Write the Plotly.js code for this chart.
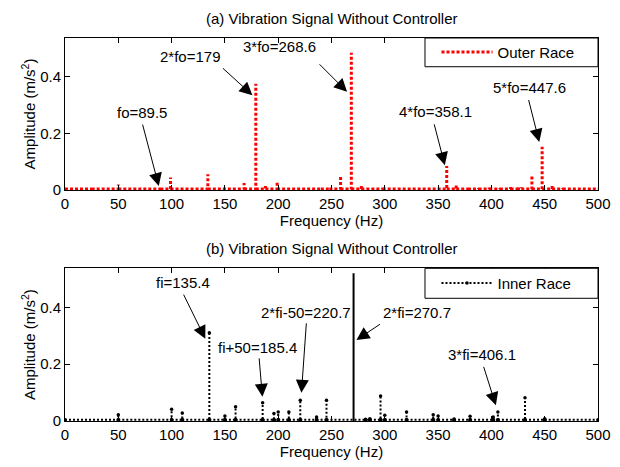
<!DOCTYPE html>
<html><head><meta charset="utf-8">
<script src="https://cdn.plot.ly/plotly-3.0.1.min.js"></script>
<style>html,body{margin:0;padding:0;background:#fff}</style>
</head><body><div id="chart" style="width:620px;height:467px"></div>
<script>
// ---------- data ----------
const freqRange = [0, 500];
const ampRange = [0, 0.537];
const xTickVals = [0, 50, 100, 150, 200, 250, 300, 350, 400, 450, 500];
const yTickVals = [0, 0.2, 0.4];
const yTickText = ['0', '0.2', '0.4'];

const outerBase = 0.004;
const outerFreq = [25, 50, 89.5, 99, 134, 168, 179, 188, 199, 240, 248, 258.5, 268.6, 278, 298,
                   358.1, 367, 378, 388, 398, 408, 418, 424, 428, 438, 447.6, 457, 467];
const outerAmp  = [0.006, 0.02, 0.012, 0.044, 0.056, 0.025, 0.375, 0.014, 0.031, 0.008, 0.008, 0.05, 0.485, 0.021, 0.008,
                   0.085, 0.016, 0.007, 0.007, 0.009, 0.007, 0.011, 0.009, 0.01, 0.053, 0.153, 0.014, 0.007];

const innerBase = 0.004;
const innerFreq = [50, 100, 110, 135.4, 150, 160, 185.4, 196, 200, 210, 220.7, 236, 245.3, 282, 286,
                   296, 300, 320.4, 345.4, 350, 365, 380, 401.7, 406.1, 431.5, 450];
const innerAmp  = [0.022, 0.041, 0.028, 0.31, 0.018, 0.05, 0.064, 0.026, 0.032, 0.032, 0.073, 0.014, 0.073, 0.006, 0.008,
                   0.088, 0.02, 0.032, 0.022, 0.018, 0.007, 0.017, 0.014, 0.032, 0.082, 0.008];
const innerSolidFreq = [270.7];
const innerSolidAmp  = [0.52];

const outerName = 'Outer Race';
const innerName = 'Inner Race';
const titleA = '(a) Vibration Signal Without Controller';
const titleB = '(b) Vibration Signal Without Controller';
const xTitle = 'Frequency (Hz)';
const yTitle = 'Amplitude (m/s<sup>2</sup>)';
const outerLabels = ['fo=89.5', '2*fo=179', '3*fo=268.6', '4*fo=358.1', '5*fo=447.6'];
const innerLabels = ['fi=135.4', 'fi+50=185.4', '2*fi-50=220.7', '2*fi=270.7', '3*fi=406.1'];

// ---------- label placement (head in data coords, offsets in px) ----------
const outerNotePos = [
  {head: [88, 0.014],    tail: [-16.6, -63],   txt: [-17.3, 74]},
  {head: [175.8, 0.335], tail: [-31, -28.3],   txt: [-62.7, 39]},
  {head: [264.6, 0.347], tail: [-29, -29],     txt: [-67.8, 44.9]},
  {head: [356.3, 0.088], tail: [-11, -42.3],   txt: [-9.3, 53.3]},
  {head: [444.9, 0.170], tail: [-11, -43.4],   txt: [-10.1, 54.2]}
];
const innerNotePos = [
  {head: [131.6, 0.289], tail: [-22.4, -45.7], txt: [-22.7, 56.5]},
  {head: [185.2, 0.085], tail: [-3.4, -40],    txt: [-4.7, 49.2]},
  {head: [221.8, 0.099], tail: [5, -71],       txt: [4.6, 80.2]},
  {head: [273.4, 0.285], tail: [25, -16.7],    txt: [60.8, 27.5]},
  {head: [404.2, 0.055], tail: [-12.7, -40],   txt: [-14.3, 51]}
];

// ---------- build ----------
function spikes(freq, amp, base, range) {
  const x = [range[0]], y = [base];
  freq.forEach((f, i) => { x.push(f, f, null, f); y.push(base, amp[i], null, base); });
  x.push(range[1]); y.push(base);
  return {x, y};
}
const o = spikes(outerFreq, outerAmp, outerBase, freqRange);
const n = spikes(innerFreq, innerAmp, innerBase, freqRange);
const s = {x: [], y: []};
innerSolidFreq.forEach((f, i) => { s.x.push(f, f, null); s.y.push(0, innerSolidAmp[i], null); });

const FONT = '"Liberation Sans", Arial, Helvetica, sans-serif';

const traces = [
  {x: o.x, y: o.y, xaxis: 'x', yaxis: 'y', type: 'scatter', mode: 'lines', name: outerName,
   line: {color: '#ff0000', width: 3, dash: '3px,2px'}, legend: 'legend', connectgaps: false},
  {x: n.x, y: n.y, xaxis: 'x2', yaxis: 'y2', type: 'scatter', mode: 'lines+markers', name: innerName,
   line: {color: '#000000', width: 2, dash: '2px,2px'}, marker: {color: '#000', size: 3.5},
   legend: 'legend2', connectgaps: false},
  {x: s.x, y: s.y, xaxis: 'x2', yaxis: 'y2', type: 'scatter', mode: 'lines', showlegend: false,
   line: {color: '#000000', width: 2}, connectgaps: false}
];

function xAx(domainAnchor) {
  return {range: freqRange, tickvals: xTickVals, ticktext: xTickVals.map(String),
    ticks: 'inside', ticklen: 5, tickcolor: '#000', mirror: 'ticks', showline: true,
    linecolor: '#000', linewidth: 1, showgrid: false, zeroline: false, automargin: false,
    tickfont: {size: 15, color: '#000', family: FONT},
    title: {text: xTitle, font: {size: 15, color: '#000', family: FONT}, standoff: 4},
    anchor: domainAnchor};
}
function yAx(domain, anchor) {
  return {range: ampRange, domain: domain, tickvals: yTickVals, ticktext: yTickText,
    ticks: 'inside', ticklen: 5, tickcolor: '#000', mirror: 'ticks', showline: true,
    linecolor: '#000', linewidth: 1, showgrid: false, zeroline: false, automargin: false,
    tickfont: {size: 15, color: '#000', family: FONT},
    title: {text: yTitle, font: {size: 15, color: '#000', family: FONT}, standoff: 0},
    anchor: anchor};
}

const annotations = [];
function addNotes(labels, pos, xr, yr) {
  labels.forEach((t, i) => {
    const p = pos[i];
    annotations.push({xref: xr, yref: yr, x: p.head[0], y: p.head[1], ax: p.tail[0], ay: p.tail[1],
      axref: 'pixel', ayref: 'pixel', text: '', showarrow: true, arrowhead: 2, arrowsize: 2.6,
      arrowwidth: 1, arrowcolor: '#000', standoff: 0, startstandoff: 0});
    annotations.push({xref: xr, yref: yr, x: p.head[0], y: p.head[1], xshift: p.txt[0], yshift: p.txt[1],
      text: t, showarrow: false, xanchor: 'center', yanchor: 'middle',
      font: {size: 15, color: '#000', family: FONT}});
  });
}
addNotes(outerLabels, outerNotePos, 'x', 'y');
addNotes(innerLabels, innerNotePos, 'x2', 'y2');
annotations.push({xref: 'paper', yref: 'paper', x: 0.5, y: 1.052, text: titleA, showarrow: false,
  xanchor: 'center', yanchor: 'middle', font: {size: 15, color: '#000', family: FONT}});
annotations.push({xref: 'paper', yref: 'paper', x: 0.5, y: 0.4515, text: titleB, showarrow: false,
  xanchor: 'center', yanchor: 'middle', font: {size: 15, color: '#000', family: FONT}});

const layout = {
  width: 620, height: 467, paper_bgcolor: '#fff', plot_bgcolor: '#fff',
  margin: {l: 65, r: 22, t: 38, b: 46},
  font: {family: FONT, color: '#000'},
  xaxis: xAx('y'), yaxis: yAx([0.603, 1], 'x'),
  xaxis2: xAx('y2'), yaxis2: yAx([0, 0.3987], 'x2'),
  legend: {x: 0.697, xanchor: 'left', y: 0.9625, yanchor: 'middle', bgcolor: 'rgba(0,0,0,0)',
    borderwidth: 0, font: {size: 15, color: '#000', family: FONT}, itemwidth: 51},
  legend2: {x: 0.697, xanchor: 'left', y: 0.3596, yanchor: 'middle', bgcolor: 'rgba(0,0,0,0)',
    borderwidth: 0, font: {size: 15, color: '#000', family: FONT}, itemwidth: 51},
  shapes: [
    {type: 'rect', xref: 'paper', yref: 'paper', x0: 0.6754, x1: 1, y0: 0.925, y1: 1,
     line: {color: '#000', width: 1}, fillcolor: '#fff', layer: 'above'},
    {type: 'rect', xref: 'paper', yref: 'paper', x0: 0.6754, x1: 1, y0: 0.3204, y1: 0.3987,
     line: {color: '#000', width: 1}, fillcolor: '#fff', layer: 'above'}
  ],
  annotations: annotations,
  showlegend: true
};
layout.xaxis.domain = [0, 1];
layout.xaxis2.domain = [0, 1];

Plotly.newPlot('chart', traces, layout, {staticPlot: true, displayModeBar: false});
</script></body></html>
